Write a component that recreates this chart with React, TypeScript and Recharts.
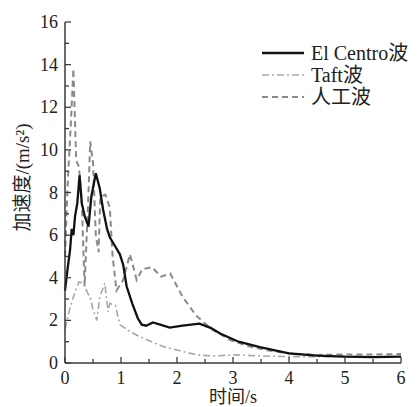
import { LineChart, Line, XAxis, YAxis } from "recharts";

// El Centro wave
const elTimes = [0, 0.05, 0.09, 0.12, 0.15, 0.18, 0.22, 0.26, 0.3, 0.35, 0.42, 0.47, 0.55, 0.62, 0.68, 0.75, 0.8, 0.89, 0.98, 1.04, 1.1, 1.2, 1.3, 1.37, 1.45, 1.57, 1.7, 1.87, 2.1, 2.4, 2.6, 2.77, 3.1, 3.48, 4.0, 4.5, 5.0, 5.5, 6.0];
const elValues = [3.4, 4.5, 5.3, 6.3, 6.0, 6.9, 7.5, 8.8, 7.5, 6.9, 6.4, 7.8, 8.9, 8.2, 7.2, 6.3, 5.9, 5.5, 5.1, 4.6, 3.6, 2.8, 2.1, 1.8, 1.75, 1.9, 1.8, 1.66, 1.75, 1.85, 1.65, 1.38, 1.0, 0.75, 0.45, 0.35, 0.3, 0.28, 0.3];

// Taft wave
const taftTimes = [0, 0.09, 0.18, 0.25, 0.33, 0.4, 0.45, 0.5, 0.57, 0.62, 0.71, 0.77, 0.8, 0.9, 0.98, 1.16, 1.34, 1.75, 2.35, 2.64, 3.07, 3.5, 4.0, 5.0, 6.0];
const taftValues = [1.6, 2.6, 3.35, 3.8, 3.75, 3.3, 3.1, 2.5, 2.0, 3.1, 3.75, 2.4, 2.8, 2.7, 1.8, 1.47, 1.23, 0.77, 0.38, 0.33, 0.38, 0.33, 0.3, 0.3, 0.3];

// artificial wave
const artTimes = [0, 0.05, 0.1, 0.15, 0.2, 0.25, 0.3, 0.35, 0.42, 0.45, 0.5, 0.55, 0.6, 0.63, 0.72, 0.8, 0.85, 0.92, 1.04, 1.16, 1.28, 1.38, 1.55, 1.72, 1.88, 2.1, 2.35, 2.64, 2.95, 3.3, 3.6, 4.0, 4.5, 5.0, 5.5, 6.0];
const artValues = [5.0, 8.5, 11.0, 13.8, 9.5, 9.2, 7.5, 3.6, 8.0, 10.4, 9.4, 6.0, 5.2, 7.8, 7.9, 7.3, 5.0, 3.4, 3.9, 5.1, 3.9, 4.4, 4.5, 4.05, 4.2, 3.1, 2.2, 1.55, 1.08, 0.77, 0.6, 0.45, 0.38, 0.4, 0.4, 0.42];

const xTicks = [0, 0.5, 1, 1.5, 2, 2.5, 3, 3.5, 4, 4.5, 5, 5.5, 6];
const yTicks = [0, 1, 2, 3, 4, 5, 6, 7, 8, 9, 10, 11, 12, 13, 14, 15, 16];

const seriesNames = ["El Centro波", "Taft波", "人工波"];

const toRows = (ts: number[], vs: number[]) => ts.map((t, i) => ({ t, a: vs[i] }));
const elData = toRows(elTimes, elValues);
const taftData = toRows(taftTimes, taftValues);
const artData = toRows(artTimes, artValues);

const FONT = "'Liberation Serif', 'Noto Sans CJK SC', serif";
const AXIS = "#3a3a3a";

const XTick = (props: any) => {
  const { x, y, payload } = props;
  const v = payload.value;
  const major = Number.isInteger(v);
  return (
    <g>
      <line x1={x} x2={x} y1={y} y2={y - (major ? 6 : 4)} stroke={AXIS} strokeWidth={1.3} />
      {major && (
        <text x={x} y={y + 21} textAnchor="middle" fontFamily={FONT} fontSize={18} fill="#222">
          {v}
        </text>
      )}
    </g>
  );
};

const YTick = (props: any) => {
  const { x, y, payload } = props;
  const v = payload.value;
  const major = v % 2 === 0;
  return (
    <g>
      <line x1={x} x2={x + (major ? 6 : 4)} y1={y} y2={y} stroke={AXIS} strokeWidth={1.3} />
      {major && (
        <text x={x - 7} y={y + 6} textAnchor="end" fontFamily={FONT} fontSize={18} fill="#222">
          {v}
        </text>
      )}
    </g>
  );
};

const legendRows = [
  { name: seriesNames[0], color: "#111", dash: undefined, w: 2.5 },
  { name: seriesNames[1], color: "#a8a8a8", dash: "7 3 2 3", w: 1.6 },
  { name: seriesNames[2], color: "#8a8a8a", dash: "6 4", w: 2 },
];

const LegendBox = () => (
  <div
    style={{
      position: "absolute",
      left: 262,
      top: 42,
      fontFamily: FONT,
      fontSize: 20,
      color: "#222",
      lineHeight: "22px",
    }}
  >
    {legendRows.map((r) => (
      <div key={r.name} style={{ display: "flex", alignItems: "center", height: 22 }}>
        <svg width={44} height={10} style={{ marginRight: 5 }}>
          <line x1={0} x2={42} y1={5} y2={5} stroke={r.color} strokeWidth={r.w} strokeDasharray={r.dash} />
        </svg>
        <span>{r.name}</span>
      </div>
    ))}
  </div>
);

export default function App() {
  return (
    <div style={{ position: "absolute", left: 0, top: 0, width: 417, height: 407, background: "#fff" }}>
      <LineChart width={417} height={407} margin={{ top: 22, right: 16, bottom: 0, left: 0 }}>
        <XAxis
          type="number"
          dataKey="t"
          domain={[0, 6]}
          ticks={xTicks}
          interval={0}
          tickSize={0}
          tickMargin={0}
          tick={<XTick />}
          height={44}
          stroke={AXIS}
          strokeWidth={1.5}
          allowDuplicatedCategory={false}
          label={{ value: "时间/s", position: "insideBottom", offset: 4, fontFamily: FONT, fontSize: 18, fill: "#222" }}
        />
        <YAxis
          type="number"
          dataKey="a"
          domain={[0, 16]}
          ticks={yTicks}
          interval={0}
          tickSize={0}
          tickMargin={0}
          tick={<YTick />}
          width={65}
          stroke={AXIS}
          strokeWidth={1.5}
          label={{
            value: "加速度/(m/s²)",
            angle: -90,
            position: "insideLeft",
            offset: 22,
            dy: -15,
            style: { textAnchor: "middle" },
            fontFamily: FONT,
            fontSize: 19,
            fill: "#222",
          }}
        />
        <Line data={artData} dataKey="a" name={seriesNames[2]} type="linear" stroke="#8a8a8a" strokeWidth={2} strokeDasharray="6 4" dot={false} isAnimationActive={false} />
        <Line data={taftData} dataKey="a" name={seriesNames[1]} type="linear" stroke="#a8a8a8" strokeWidth={1.6} strokeDasharray="7 3 2 3" dot={false} isAnimationActive={false} />
        <Line data={elData} dataKey="a" name={seriesNames[0]} type="linear" stroke="#111" strokeWidth={2.3} dot={false} isAnimationActive={false} />
      </LineChart>
      <LegendBox />
    </div>
  );
}
